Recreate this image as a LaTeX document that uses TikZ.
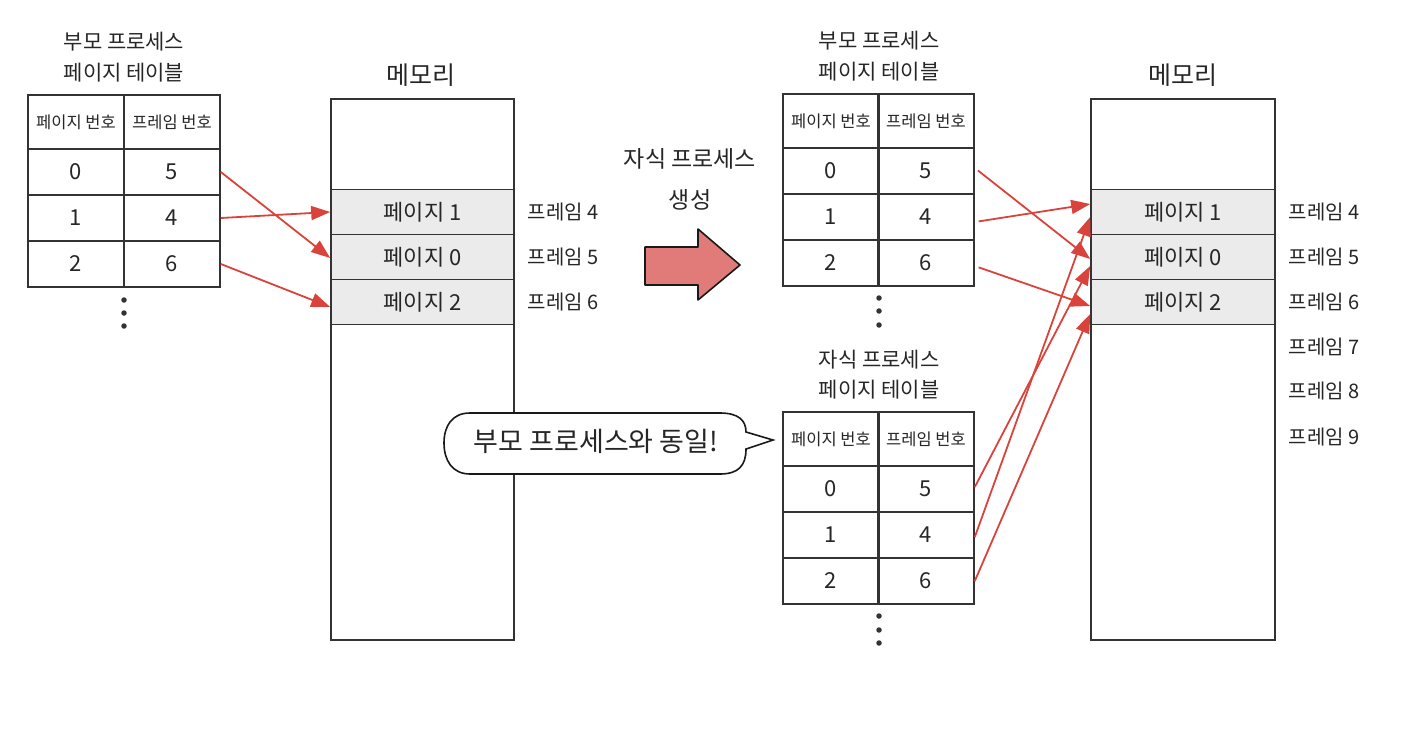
\documentclass[tikz,border=0pt]{standalone}
\usepackage{fontspec}
\setmainfont{Noto Sans CJK KR}
\usepackage{tikz}
\usetikzlibrary{arrows.meta}
\definecolor{inkline}{HTML}{333333}
\definecolor{pagegray}{HTML}{EBEBEB}
\definecolor{maparrow}{HTML}{D9433B}
\definecolor{bigarrow}{HTML}{E07B79}

\begin{document}
\begin{tikzpicture}[
  x=1pt, y=-1pt,
  every node/.style={inner sep=0pt, text=black!85},
  title/.style={font=\fontsize{21}{24}\selectfont},
  memtitle/.style={font=\fontsize{25}{28}\selectfont},
  headcell/.style={draw=inkline, line width=1.6pt, minimum width=96pt, minimum height=54pt, font=\fontsize{16.5}{19}\selectfont},
  cell/.style={draw=inkline, line width=1.6pt, minimum width=96pt, minimum height=46pt, font=\fontsize{22}{25}\selectfont},
  membox/.style={draw=inkline, line width=1.6pt, minimum width=183pt, minimum height=541pt},
  pagerow/.style={draw=inkline, line width=1.6pt, fill=pagegray, minimum width=183pt, minimum height=45pt, font=\fontsize{22}{25}\selectfont},
  framelbl/.style={font=\fontsize{20}{23}\selectfont},
  dot/.style={fill=inkline, circle, minimum size=5.5pt},
  map/.style={-{Triangle[length=19pt,width=14pt]}, draw=maparrow, fill=maparrow, line width=1.8pt}
]
\useasboundingbox (0,0) rectangle (1404,744);

% Parent page table (left)
\node[title] (ltitA) at (124,42) {부모 프로세스};
\node[title] (ltitB) at (124,73) {페이지 테이블};
\node[headcell] (lhp) at (76,122) {페이지 번호};
\node[headcell] (lhf) at (172,122) {프레임 번호};
\node[cell] (lp0) at (76,172) {0};
\node[cell] (lf0) at (172,172) {5};
\node[cell] (lp1) at (76,218) {1};
\node[cell] (lf1) at (172,218) {4};
\node[cell] (lp2) at (76,264) {2};
\node[cell] (lf2) at (172,264) {6};
\node[dot] (ld1) at (124,300) {};
\node[dot] (ld2) at (124,313) {};
\node[dot] (ld3) at (124,326) {};

% Memory (left)
\node[memtitle] (lmtit) at (421,75) {메모리};
\node[membox] (lmem) at (422.5,369.5) {};
\node[pagerow] (lm1) at (422.5,212) {페이지 1};
\node[pagerow] (lm0) at (422.5,257) {페이지 0};
\node[pagerow] (lm2) at (422.5,302) {페이지 2};
\node[framelbl] (lfr4) at (563,212) {프레임 4};
\node[framelbl] (lfr5) at (563,257) {프레임 5};
\node[framelbl] (lfr6) at (563,302) {프레임 6};

\draw[map] (lf0.east) -- ([yshift=-1pt]lm0.west);
\draw[map] (lf1.east) -- (lm1.west);
\draw[map] (lf2.east) -- ([yshift=-5pt]lm2.west);

% Fork arrow
\node[font=\fontsize{23}{26}\selectfont] (forkA) at (690,159) {자식 프로세스};
\node[font=\fontsize{23}{26}\selectfont] (forkB) at (690,200) {생성};
\draw[draw=black!90, line width=1.6pt, fill=bigarrow, line join=round]
  (645,247) -- (698,247) -- (698,229) -- (740,265) -- (698,300) -- (698,285) -- (645,285) -- cycle;

% Parent page table (right)
\node[title] (ptitA) at (879,41) {부모 프로세스};
\node[title] (ptitB) at (879,72) {페이지 테이블};
\node[headcell] (php) at (831,121) {페이지 번호};
\node[headcell] (phf) at (926,121) {프레임 번호};
\node[cell] (pp0) at (831,171) {0};
\node[cell] (pf0) at (926,171) {5};
\node[cell] (pp1) at (831,217) {1};
\node[cell] (pf1) at (926,217) {4};
\node[cell] (pp2) at (831,263) {2};
\node[cell] (pf2) at (926,263) {6};
\node[dot] (pd1) at (879,298) {};
\node[dot] (pd2) at (879,311) {};
\node[dot] (pd3) at (879,325) {};

% Child page table
\node[title] (ctitA) at (879,360) {자식 프로세스};
\node[title] (ctitB) at (879,390) {페이지 테이블};
\node[headcell] (chp) at (831,439) {페이지 번호};
\node[headcell] (chf) at (926,439) {프레임 번호};
\node[cell] (cp0) at (831,489) {0};
\node[cell] (cf0) at (926,489) {5};
\node[cell] (cp1) at (831,535) {1};
\node[cell] (cf1) at (926,535) {4};
\node[cell] (cp2) at (831,581) {2};
\node[cell] (cf2) at (926,581) {6};
\node[dot] (cd1) at (879,616) {};
\node[dot] (cd2) at (879,630) {};
\node[dot] (cd3) at (879,643) {};

% Speech bubble
\draw[draw=black!90, line width=1.6pt, fill=white]
  (470,413) -- (720,413) .. controls (738,413) and (746,420) .. (746,432)
  -- (773,440) -- (746,449) .. controls (746,466) and (738,474) .. (720,474)
  -- (470,474) .. controls (452,474) and (444,460) .. (444,443)
  .. controls (444,426) and (452,413) .. (470,413) -- cycle;
\node[font=\fontsize{27}{30}\selectfont] (same) at (596,441) {부모 프로세스와 동일!};

% Memory (right)
\node[memtitle] (rmtit) at (1183,75) {메모리};
\node[membox, minimum width=184pt] (rmem) at (1183,369.5) {};
\node[pagerow, minimum width=184pt] (rm1) at (1183,212) {페이지 1};
\node[pagerow, minimum width=184pt] (rm0) at (1183,257) {페이지 0};
\node[pagerow, minimum width=184pt] (rm2) at (1183,302) {페이지 2};
\node[framelbl] (rfr4) at (1324,212) {프레임 4};
\node[framelbl] (rfr5) at (1324,257) {프레임 5};
\node[framelbl] (rfr6) at (1324,302) {프레임 6};
\node[framelbl] (rfr7) at (1324,347) {프레임 7};
\node[framelbl] (rfr8) at (1324,391) {프레임 8};
\node[framelbl] (rfr9) at (1324,437) {프레임 9};

\draw[map, shorten <=4pt] ([yshift=3pt]pf0.east) -- ([yshift=-2pt]rm0.west);
\draw[map, shorten <=4pt] ([yshift=-5pt]pf1.east) -- ([yshift=8pt]rm1.west);
\draw[map, shorten <=4pt] ([yshift=-3pt]pf2.east) -- ([yshift=-4pt]rm2.west);
\draw[map] ([yshift=2pt]cf0.east) -- ([yshift=-9pt]rm0.west);
\draw[map] ([yshift=-2pt]cf1.east) -- ([yshift=-5pt]rm1.west);
\draw[map] (cf2.east) -- ([yshift=-12pt]rm2.west);
\end{tikzpicture}
\end{document}
